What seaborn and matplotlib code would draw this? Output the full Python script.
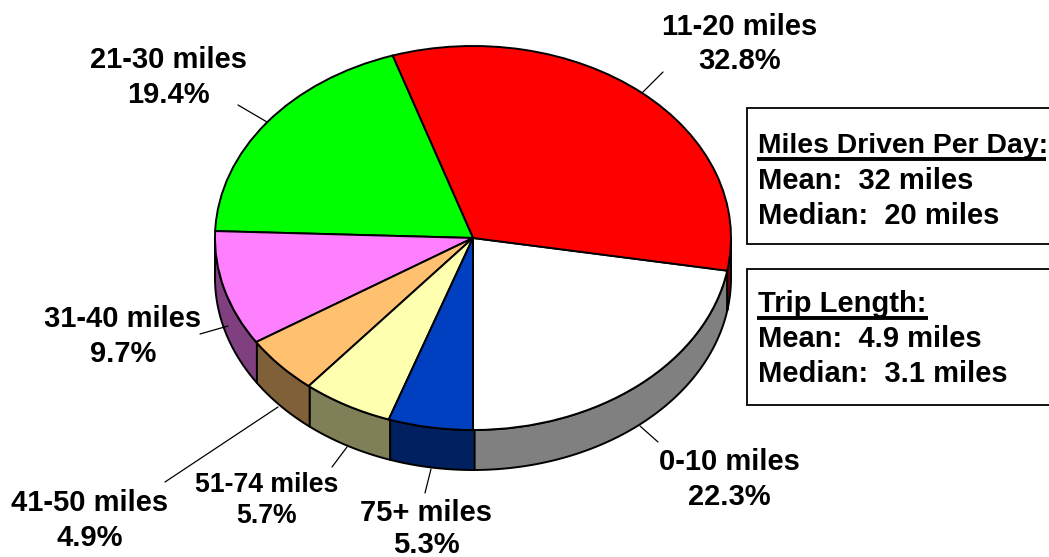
import numpy as np
import matplotlib
matplotlib.use("Agg")
import matplotlib.pyplot as plt
from matplotlib.lines import Line2D
from matplotlib.patches import Rectangle
from matplotlib.transforms import Affine2D
from matplotlib.colors import to_rgb
import seaborn as sns

# ---- data ----
categories = ["0-10 miles", "11-20 miles", "21-30 miles", "31-40 miles",
              "41-50 miles", "51-74 miles", "75+ miles"]
shares = [22.3, 32.8, 19.4, 9.7, 4.9, 5.7, 5.3]
box_day = ["Miles Driven Per Day:", "Mean:  32 miles", "Median:  20 miles"]
box_trip = ["Trip Length:", "Mean:  4.9 miles", "Median:  3.1 miles"]

# ---- styles ----
slice_colors = ["#FFFFFF", "#FF0000", "#00FF00", "#FF80FF", "#FFC070", "#FFFFB0", "#0040C0"]
W, H = 1049, 557
CX, CY, RX, RY, DEPTH = 473, 238, 258, 192, 40
label_pos = [(729, 460, 495), (740, 25, 59), (168, 58, 93), (123, 317, 352),
             (90, 501, 536), (267, 483, 514), (426, 511, 545)]
label_size = [21.0, 21.0, 21.0, 21.0, 21.0, 19.2, 21.0]
leaders = [((640, 426), (658, 442)), ((642, 93), (663, 72)), ((267, 122), (238, 105)),
           ((228, 326), (200, 334)), ((278, 407), (165, 482)), ((347, 447), (332, 467)),
           ((431, 469), (425, 493))]

sns.set_theme(style="white")
plt.rcParams["font.family"] = ["Liberation Sans", "DejaVu Sans"]
palette = sns.color_palette(slice_colors)

fig = plt.figure(figsize=(W / 100, H / 100), dpi=100, facecolor="white")
ax = fig.add_axes([0, 0, 1, 1])
pix = Affine2D().scale(1 / W, -1 / H).translate(0, 1) + fig.transFigure

# top of the pie, flattened into an ellipse by the axes scale
ax.pie(shares, colors=palette, startangle=270, counterclock=True, radius=1,
       wedgeprops=dict(edgecolor="black", linewidth=1.4, zorder=3))
ax.set_aspect("auto")
ax.set_xlim(-CX / RX, (W - CX) / RX)
ax.set_ylim(-(H - CY) / RY, CY / RY)
ax.axis("off")

# side wall: the lower half of each slice, dropped by the pie depth
drop = DEPTH / RY
edges = 270 + np.concatenate([[0], np.cumsum(shares)]) * 3.6
for i, col in enumerate(palette):
    for lo, hi in ((edges[i], edges[i + 1]), (edges[i] - 360, edges[i + 1] - 360)):
        a, b = max(lo, 180), min(hi, 360)
        if b <= a:
            continue
        t = np.radians(np.linspace(a, b, 80))
        xs = np.concatenate([np.cos(t), np.cos(t[::-1])])
        ys = np.concatenate([np.sin(t), np.sin(t[::-1]) - drop])
        ax.fill(xs, ys, facecolor=tuple(0.5 * c for c in to_rgb(col)),
                edgecolor="black", linewidth=1.4, zorder=1, joinstyle="round")

# leader lines and labels
for (p, q) in leaders:
    fig.add_artist(Line2D([p[0], q[0]], [p[1], q[1]], transform=pix, color="black", lw=0.9))
for name, share, (x, y1, y2), fs in zip(categories, shares, label_pos, label_size):
    for y, s in ((y1, name), (y2, f"{share}%")):
        fig.text(x, y + (2 if y < 545 else 0), s, transform=pix, ha="center", va="center",
                 fontsize=fs, fontweight="bold", color="black")

# stat boxes
for lines, top, bottom, head_y, rows, ul_y, ul_end, head_fs in (
        (box_day, 108, 244, 144, (179, 214), 159, 1046, 20.4),
        (box_trip, 269, 405, 302, (337, 372), 317.5, 928, 21.0)):
    fig.add_artist(Rectangle((747, top), 320, bottom - top, transform=pix, facecolor="white",
                             edgecolor="black", linewidth=1.3, zorder=2))
    for y, s, fs in zip((head_y,) + rows, lines, (head_fs, 21.0, 21.0)):
        fig.text(758, y + 2, s, transform=pix, ha="left", va="center", fontsize=fs,
                 fontweight="bold", color="black", zorder=4)
    fig.add_artist(Line2D([757, ul_end], [ul_y, ul_y], transform=pix,
                          color="black", lw=2.8, solid_capstyle="butt", zorder=5))

fig.savefig("out.png", dpi=100, facecolor="white")
